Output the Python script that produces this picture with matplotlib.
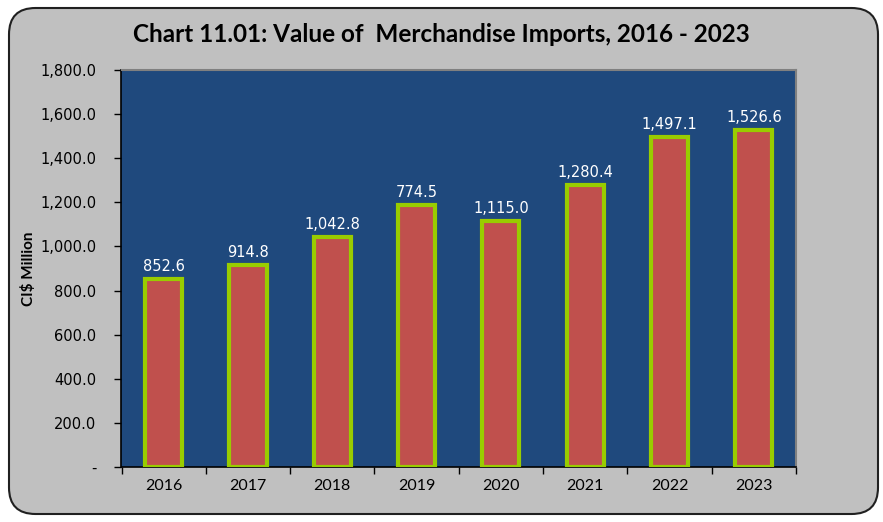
import matplotlib
matplotlib.use('Agg')
import matplotlib.pyplot as plt
from matplotlib.patches import FancyBboxPatch
from matplotlib.ticker import FixedLocator, FuncFormatter
import numpy as np

years = ['2016', '2017', '2018', '2019', '2020', '2021', '2022', '2023']
# bar heights as drawn; the labels are the printed ones (2019 label differs from its bar)
values = [852.6, 914.8, 1042.8, 1190.0, 1115.0, 1280.4, 1497.1, 1526.6]
labels = ['852.6', '914.8', '1,042.8', '774.5', '1,115.0', '1,280.4', '1,497.1', '1,526.6']

fig = plt.figure(figsize=(8.83, 5.22), dpi=100)
fig.patch.set_facecolor('white')

# outer rounded frame
frame = FancyBboxPatch((9 / 883, 8 / 522), 869 / 883, 506 / 522,
                       boxstyle='round,pad=0,rounding_size=0.03',
                       transform=fig.transFigure, facecolor='#C0C0C0',
                       edgecolor='#202020', linewidth=1.5, mutation_aspect=883 / 522,
                       zorder=-5)
fig.patches.append(frame)

ax = fig.add_axes([121.5 / 883, 1 - 467 / 522, 674.5 / 883, 397 / 522])
ax.set_facecolor('#1F497D')

x = np.arange(len(years))
ax.bar(x, values, width=0.44, color='#C0504D', edgecolor='#99CC00', linewidth=3, zorder=3)

for xi, v, lab in zip(x, values, labels):
    ax.text(xi, v + 22, lab, ha='center', va='bottom', color='white',
            fontsize=10.5, family='DejaVu Sans', zorder=4)

ax.set_xlim(-0.5, len(years) - 0.5)
ax.set_ylim(0, 1800)
ax.set_yticks(np.arange(0, 1801, 200))
ax.yaxis.set_major_formatter(FuncFormatter(lambda v, p: '-' if v == 0 else f'{v:,.1f}'))
ax.set_xticks(x)
ax.set_xticklabels(years, family='Lato', fontsize=11.5)
ax.xaxis.set_minor_locator(FixedLocator(np.arange(-0.5, len(years), 1.0)))
ax.tick_params(axis='x', which='major', length=0, pad=9, colors='black')
ax.tick_params(axis='x', which='minor', length=5, width=1, direction='out', color='black')
ax.tick_params(axis='y', length=5, width=1, direction='out', labelsize=10.5, pad=13)
for t in ax.get_yticklabels():
    t.set_family('DejaVu Sans')
    t.set_horizontalalignment('right')

for s in ['left', 'bottom']:
    ax.spines[s].set_color('black')
    ax.spines[s].set_linewidth(1.2)
for s in ['top', 'right']:
    ax.spines[s].set_color('#808080')
    ax.spines[s].set_linewidth(1.5)

ax.set_ylabel('CI$ Million', family='Lato', fontweight='bold', fontsize=11, labelpad=2)
ax.yaxis.set_label_coords(-0.127, 0.5)

fig.text(441 / 883, 1 - 35 / 522, 'Chart 11.01: Value of  Merchandise Imports, 2016 - 2023',
         ha='center', va='center', family='Lato', fontweight='bold', fontsize=17.5)

fig.savefig('out.png', dpi=100, facecolor=fig.get_facecolor())
